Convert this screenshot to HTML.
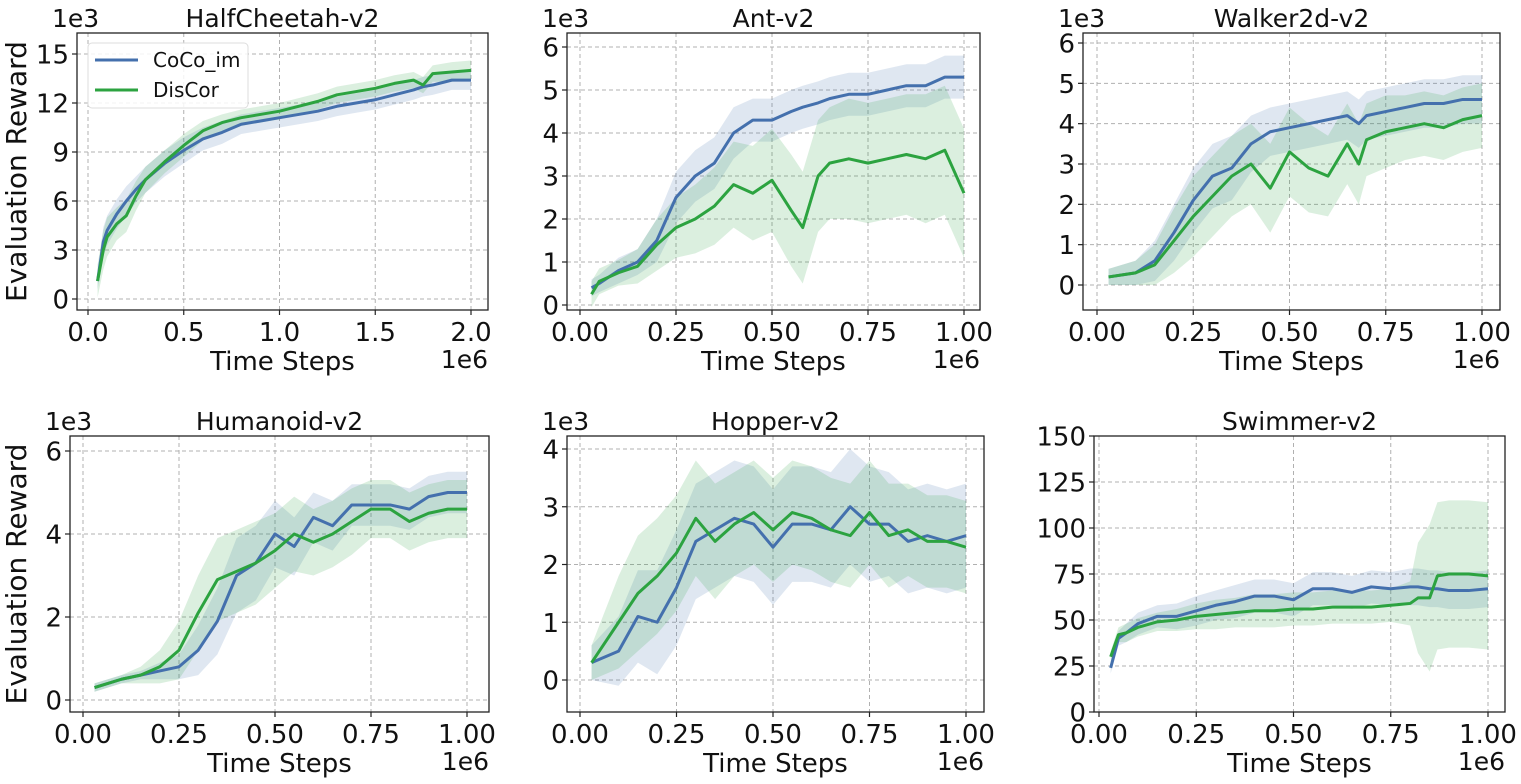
<!DOCTYPE html>
<html><head><meta charset="utf-8">
<style>
html,body{margin:0;padding:0;background:#fff;}
svg{display:block;font-family:"DejaVu Sans","Liberation Sans",sans-serif;}
</style></head>
<body>
<svg id="fig" width="1521" height="784" viewBox="0 0 1521 784" xmlns="http://www.w3.org/2000/svg"></svg>
<script>
// ---- data ----
const hcX=[0.05,0.08,0.1,0.15,0.2,0.25,0.3,0.4,0.5,0.6,0.7,0.8,0.9,1.0,1.1,1.2,1.3,1.4,1.5,1.6,1.7,1.75,1.8,1.9,2.0];
const hcCoco=[1.1,3.5,4.2,5.2,6.0,6.7,7.3,8.3,9.1,9.8,10.2,10.7,10.9,11.1,11.3,11.5,11.8,12.0,12.2,12.5,12.8,13.0,13.1,13.4,13.4];
const hcCocoSpread=[0.5,0.9,0.9,0.9,0.9,0.8,0.8,0.8,0.8,0.7,0.7,0.6,0.6,0.6,0.6,0.6,0.6,0.6,0.6,0.6,0.6,0.6,0.6,0.6,0.6];
const hcDis=[1.1,3.0,3.8,4.6,5.1,6.3,7.3,8.4,9.4,10.3,10.8,11.1,11.3,11.5,11.8,12.1,12.5,12.7,12.9,13.2,13.4,13.1,13.8,13.9,14.0];
const hcDisSpread=[1.0,1.2,1.2,1.0,1.0,0.9,0.8,0.7,0.7,0.6,0.5,0.5,0.5,0.5,0.5,0.5,0.5,0.5,0.5,0.5,0.5,0.5,0.5,0.6,0.6];

const antX=[0.03,0.05,0.1,0.15,0.2,0.25,0.3,0.35,0.4,0.45,0.5,0.55,0.58,0.62,0.65,0.7,0.75,0.8,0.85,0.9,0.95,1.0];
const antCoco=[0.4,0.5,0.8,1.0,1.5,2.5,3.0,3.3,4.0,4.3,4.3,4.5,4.6,4.7,4.8,4.9,4.9,5.0,5.1,5.1,5.3,5.3];
const antCocoSpread=[0.2,0.2,0.3,0.3,0.5,0.6,0.6,0.6,0.6,0.5,0.5,0.5,0.5,0.5,0.5,0.5,0.5,0.5,0.5,0.5,0.5,0.5];
const antDis=[0.25,0.55,0.75,0.9,1.4,1.8,2.0,2.3,2.8,2.6,2.9,2.2,1.8,3.0,3.3,3.4,3.3,3.4,3.5,3.4,3.6,2.6];
const antDisSpread=[0.3,0.3,0.3,0.4,0.6,0.7,0.8,0.9,1.0,1.1,1.2,1.3,1.3,1.3,1.3,1.4,1.4,1.4,1.4,1.5,1.5,1.5];

const wkX=[0.03,0.1,0.15,0.2,0.25,0.3,0.35,0.4,0.45,0.5,0.55,0.6,0.65,0.68,0.7,0.75,0.8,0.85,0.9,0.95,1.0];
const wkCoco=[0.2,0.3,0.6,1.3,2.1,2.7,2.9,3.5,3.8,3.9,4.0,4.1,4.2,4.0,4.2,4.3,4.4,4.5,4.5,4.6,4.6];
const wkCocoSpread=[0.2,0.3,0.5,0.7,0.8,0.8,0.8,0.7,0.6,0.6,0.6,0.6,0.6,0.6,0.6,0.6,0.6,0.6,0.6,0.6,0.6];
const wkDis=[0.2,0.3,0.5,1.1,1.7,2.2,2.7,3.0,2.4,3.3,2.9,2.7,3.5,3.0,3.6,3.8,3.9,4.0,3.9,4.1,4.2];
const wkDisSpread=[0.2,0.3,0.5,0.8,1.0,1.0,1.0,1.0,1.1,1.1,1.1,1.0,1.0,1.0,0.9,0.9,0.8,0.8,0.8,0.8,0.8];

const huX=[0.03,0.1,0.15,0.2,0.25,0.3,0.35,0.4,0.45,0.5,0.55,0.6,0.65,0.7,0.75,0.8,0.85,0.9,0.95,1.0];
const huCoco=[0.3,0.5,0.6,0.7,0.8,1.2,1.9,3.0,3.3,4.0,3.7,4.4,4.2,4.7,4.7,4.7,4.6,4.9,5.0,5.0];
const huCocoSpread=[0.1,0.1,0.1,0.2,0.3,0.6,0.8,0.9,0.9,0.8,0.7,0.6,0.6,0.5,0.5,0.5,0.5,0.5,0.5,0.5];
const huDis=[0.3,0.5,0.6,0.8,1.2,2.1,2.9,3.1,3.3,3.6,4.0,3.8,4.0,4.3,4.6,4.6,4.3,4.5,4.6,4.6];
const huDisSpread=[0.1,0.1,0.2,0.4,0.7,0.9,1.0,1.0,1.0,0.9,0.9,0.8,0.8,0.8,0.7,0.7,0.7,0.7,0.7,0.7];

const hoX=[0.03,0.1,0.15,0.2,0.25,0.3,0.35,0.4,0.45,0.5,0.55,0.6,0.65,0.7,0.75,0.8,0.85,0.9,0.95,1.0];
const hoCoco=[0.3,0.5,1.1,1.0,1.6,2.4,2.6,2.8,2.7,2.3,2.7,2.7,2.6,3.0,2.7,2.7,2.4,2.5,2.4,2.5];
const hoCocoSpread=[0.3,0.6,0.8,0.9,1.0,1.0,1.0,1.0,1.0,1.0,1.0,1.0,1.0,1.0,1.0,0.9,0.9,0.9,0.9,0.9];
const hoDis=[0.3,1.0,1.5,1.8,2.2,2.8,2.4,2.7,2.9,2.6,2.9,2.8,2.6,2.5,2.9,2.5,2.6,2.4,2.4,2.3];
const hoDisSpread=[0.3,0.8,1.0,1.0,1.0,1.0,1.0,0.9,0.9,0.9,0.9,0.9,0.9,0.9,0.9,0.9,0.8,0.8,0.8,0.8];

const swX=[0.03,0.05,0.07,0.1,0.15,0.2,0.25,0.3,0.35,0.4,0.45,0.5,0.55,0.6,0.65,0.7,0.75,0.8,0.82,0.85,0.87,0.9,0.95,1.0];
const swCoco=[24,40,43,48,52,52,55,58,60,63,63,61,67,67,65,68,67,68,68,67,67,66,66,67];
const swCocoSpread=[3,4,5,6,6,7,8,8,9,9,9,9,9,9,9,9,9,10,10,10,10,10,10,10];
const swDis=[30,42,43,46,49,50,52,53,54,55,55,56,56,57,57,57,58,59,62,62,74,75,75,74];
const swDisSpread=[3,4,5,5,5,6,7,8,8,9,9,9,9,9,9,9,9,12,30,40,40,40,40,40];

const panelTitles=["HalfCheetah-v2","Ant-v2","Walker2d-v2","Humanoid-v2","Hopper-v2","Swimmer-v2"];
const xTicksHC=[0,0.5,1.0,1.5,2.0];
const xTickLabelsHC=["0.0","0.5","1.0","1.5","2.0"];
const xTicksM=[0,0.25,0.5,0.75,1.0];
const xTickLabelsM=["0.00","0.25","0.50","0.75","1.00"];

// ---- layout (pixel config) ----
const panels=[
 {name:"halfcheetah",box:[77,33,488,310],xp:[88,471],xv:[0,2],yp:[299,54],yv:[0,15],yt:[0,3,6,9,12,15],xt:xTicksHC,xl:xTickLabelsHC,X:hcX,A:hcCoco,As:hcCocoSpread,B:hcDis,Bs:hcDisSpread,mult:true,ylab:true,legend:true},
 {name:"ant",box:[567,33,980,310],xp:[580,964],xv:[0,1],yp:[305,47],yv:[0,6],yt:[0,1,2,3,4,5,6],xt:xTicksM,xl:xTickLabelsM,X:antX,A:antCoco,As:antCocoSpread,B:antDis,Bs:antDisSpread,mult:true},
 {name:"walker2d",box:[1083,33,1500,310],xp:[1097,1482],xv:[0,1],yp:[285,43],yv:[0,6],yt:[0,1,2,3,4,5,6],xt:xTicksM,xl:xTickLabelsM,X:wkX,A:wkCoco,As:wkCocoSpread,B:wkDis,Bs:wkDisSpread,mult:true},
 {name:"humanoid",box:[70,436,489,712],xp:[83,467],xv:[0,1],yp:[700,451],yv:[0,6],yt:[0,2,4,6],xt:xTicksM,xl:xTickLabelsM,X:huX,A:huCoco,As:huCocoSpread,B:huDis,Bs:huDisSpread,mult:true,ylab:true},
 {name:"hopper",box:[567,436,984,712],xp:[580,966],xv:[0,1],yp:[680,449],yv:[0,4],yt:[0,1,2,3,4],xt:xTicksM,xl:xTickLabelsM,X:hoX,A:hoCoco,As:hoCocoSpread,B:hoDis,Bs:hoDisSpread,mult:true},
 {name:"swimmer",box:[1094,436,1505,712],xp:[1099,1488],xv:[0,1],yp:[712,436],yv:[0,150],yt:[0,25,50,75,100,125,150],xt:xTicksM,xl:xTickLabelsM,X:swX,A:swCoco,As:swCocoSpread,B:swDis,Bs:swDisSpread,mult:false}
];
const BLUE="#4470ad", GREEN="#2ca340";
const NS="http://www.w3.org/2000/svg";
const svg=document.getElementById("fig");
function mk(tag,attrs,parent){const e=document.createElementNS(NS,tag);for(const k in attrs)e.setAttribute(k,attrs[k]);(parent||svg).appendChild(e);return e;}

panels.forEach((p,i)=>{
  const g=mk("g",{});
  
  
  const sx=v=>p.xp[0]+(v-p.xv[0])*(p.xp[1]-p.xp[0])/(p.xv[1]-p.xv[0]);
  const sy=v=>p.yp[0]+(v-p.yv[0])*(p.yp[1]-p.yp[0])/(p.yv[1]-p.yv[0]);
  const [L,T,R,B]=p.box;
  const clipId="clip"+i;
  const cp=mk("clipPath",{id:clipId},g); mk("rect",{x:L,y:T,width:R-L,height:B-T},cp);
  p.xt.forEach(v=>{const l=mk("line",{x1:sx(v),x2:sx(v),y1:T,y2:B,stroke:"#b0b0b0","stroke-width":1,"stroke-dasharray":"4,3"},g);
    
    });
  p.yt.forEach(v=>{const l=mk("line",{x1:L,x2:R,y1:sy(v),y2:sy(v),stroke:"#b0b0b0","stroke-width":1,"stroke-dasharray":"4,3"},g);
    
    });
  const series=[[p.A,p.As,BLUE,"coco-im"],[p.B,p.Bs,GREEN,"discor"]];
  const dg=mk("g",{"clip-path":"url(#"+clipId+")"},g);
  series.forEach(([m,s,c,n])=>{
    let up=p.X.map((x,k)=>sx(x)+","+sy(m[k]+s[k]));
    let lo=p.X.map((x,k)=>sx(x)+","+sy(m[k]-s[k])).reverse();
    const band=mk("polygon",{points:up.concat(lo).join(" "),fill:c,"fill-opacity":0.17,stroke:"none"},dg);
    
    
  });
  series.forEach(([m,s,c,n])=>{
    const line=mk("polyline",{points:p.X.map((x,k)=>sx(x)+","+sy(m[k])).join(" "),fill:"none",stroke:c,"stroke-width":3,"stroke-linejoin":"round"},dg);
    
    
  });
  const fr=mk("rect",{x:L,y:T,width:R-L,height:B-T,fill:"none",stroke:"#222","stroke-width":1.3},g);
  
  
  p.xt.forEach((v,k)=>{
    mk("line",{x1:sx(v),x2:sx(v),y1:B,y2:B+5,stroke:"#222","stroke-width":1.2},g);
    const t=mk("text",{x:sx(v),y:B+31,"font-size":26,"text-anchor":"middle",fill:"#111"},g);
    t.textContent=p.xl[k];
    
    
  });
  p.yt.forEach(v=>{
    mk("line",{x1:L-5,x2:L,y1:sy(v),y2:sy(v),stroke:"#222","stroke-width":1.2},g);
    const t=mk("text",{x:L-8,y:sy(v)+9.5,"font-size":26,"text-anchor":"end",fill:"#111"},g);
    t.textContent=String(v);
    
    
  });
  const tt=mk("text",{x:(L+R)/2,y:T-6,"font-size":25,"text-anchor":"middle",fill:"#111"},g);
  tt.textContent=panelTitles[i];
  
  
  const xl=mk("text",{x:(L+R)/2,y:B+60,"font-size":26,"text-anchor":"middle",fill:"#111"},g);
  xl.textContent="Time Steps";
  
  
  const e6=mk("text",{x:R,y:B+58,"font-size":25,"text-anchor":"end",fill:"#111"},g);
  e6.textContent="1e6";
  
  
  if(p.mult){
    const e3=mk("text",{x:L-25,y:T-6,"font-size":25,"text-anchor":"start",fill:"#111"},g);
    e3.textContent="1e3";
    
    
  }
  if(p.ylab){
    const cy=(T+B)/2;
    const yl=mk("text",{x:26,y:cy,"font-size":28,"text-anchor":"middle",fill:"#111",transform:"rotate(-90 26 "+cy+")"},g);
    yl.textContent="Evaluation Reward";
    
    
  }
  if(p.legend){
    const lg=mk("g",{},g);
    
    
    mk("rect",{x:L+11,y:T+10,width:160,height:65,rx:4,fill:"#fff","fill-opacity":0.85,stroke:"#ddd"},lg);
    [["CoCo_im",BLUE],["DisCor",GREEN]].forEach(([lab,c],k)=>{
      const yy=T+27+k*30;
      mk("line",{x1:L+18,x2:L+61,y1:yy,y2:yy,stroke:c,"stroke-width":3},lg);
      const t=mk("text",{x:L+76,y:yy+7,"font-size":20,fill:"#111"},lg);
      t.textContent=lab;
      
      
    });
  }
});
</script>
</body></html>
